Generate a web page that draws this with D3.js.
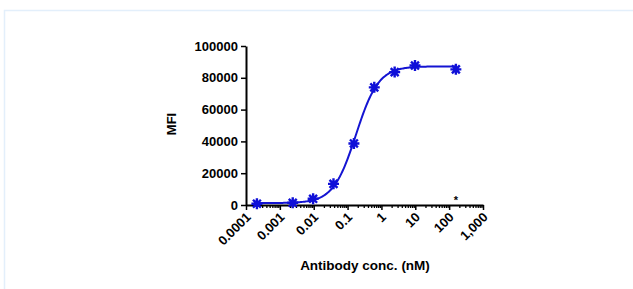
<!DOCTYPE html>
<html>
<head>
<meta charset="utf-8">
<script src="https://cdn.jsdelivr.net/npm/d3@7"></script>
<style>
  body { margin: 0; background: #fff; }
  text { font-family: "Liberation Sans", Arial, sans-serif; font-weight: bold; }
</style>
</head>
<body>
<div id="chart"></div>
<script>
// Data
var concentrations = [0.00021, 0.0024, 0.0096, 0.0384, 0.154, 0.615, 2.46, 9.8, 158];
var mfiValues = [800, 1400, 3900, 13300, 38700, 74000, 83600, 87700, 85300];
// 4PL fit: bottom, top, EC50, hill
var fitParams = [1200, 87200, 0.177, 1.3];
var yTicks = [0, 20000, 40000, 60000, 80000, 100000];
var xTicks = [0.0001, 0.001, 0.01, 0.1, 1, 10, 100, 1000];
var xTickLabels = ["0.0001", "0.001", "0.01", "0.1", "1", "10", "100", "1,000"];

var svgWidth = 633;
var svgHeight = 289;

var margin = { top: 46, left: 246, right: 150, bottom: 84 };
var width = 483 - margin.left;
var height = 205 - margin.top;

var svg = d3.select("#chart")
  .append("svg")
  .attr("width", svgWidth)
  .attr("height", svgHeight);

// light panel frame
svg.append("path")
  .attr("d", "M4.5,289 L4.5,10.5 L633,10.5")
  .attr("fill", "none")
  .attr("stroke", "#e3effb")
  .attr("stroke-width", 1.5);

var chartGroup = svg.append("g")
  .attr("transform", `translate(${margin.left}, ${margin.top})`);

var xScale = d3.scaleLog().domain([0.0001, 1000]).range([0, width]);
var yScale = d3.scaleLinear().domain([0, 100000]).range([height, 0]);

// minor ticks for log axis
var minorTicks = [];
xTicks.slice(0, -1).forEach(function(t) {
  for (var k = 2; k <= 9; k++) minorTicks.push(t * k);
});

var minorAxis = chartGroup.append("g")
  .attr("transform", `translate(0, ${height})`)
  .call(d3.axisBottom(xScale).tickValues(minorTicks).tickSize(3).tickFormat(""));
minorAxis.select(".domain").remove();
minorAxis.selectAll("line").attr("stroke-width", 1.3);

var xAxis = chartGroup.append("g")
  .attr("transform", `translate(0, ${height})`)
  .call(d3.axisBottom(xScale).tickValues(xTicks).tickSize(5).tickSizeOuter(0)
    .tickFormat(function(d, i) { return xTickLabels[i]; }));
xAxis.select(".domain").attr("stroke-width", 2);
xAxis.selectAll(".tick line").attr("stroke-width", 1.5);
xAxis.selectAll("text")
  .attr("font-size", 13)
  .attr("font-family", "Liberation Sans, Arial, sans-serif")
  .attr("fill", "#000")
  .style("text-anchor", "end")
  .attr("dx", null).attr("dy", null)
  .attr("y", 0)
  .attr("transform", "translate(5, 13) rotate(-45)");

var yAxis = chartGroup.append("g")
  .call(d3.axisLeft(yScale).tickValues(yTicks).tickSize(5).tickSizeOuter(0)
    .tickFormat(d3.format("d")));
yAxis.select(".domain").attr("stroke-width", 2);
yAxis.selectAll(".tick line").attr("stroke-width", 1.5);
yAxis.selectAll("text")
  .attr("font-size", 13)
  .attr("font-family", "Liberation Sans, Arial, sans-serif")
  .attr("fill", "#000")
  .attr("x", -8);

// fitted 4PL curve
function fourPL(x) {
  return fitParams[0] + (fitParams[1] - fitParams[0]) / (1 + Math.pow(fitParams[2] / x, fitParams[3]));
}
var logMin = Math.log10(d3.min(concentrations));
var logMax = Math.log10(d3.max(concentrations));
var curveData = d3.range(0, 201).map(function(i) {
  var x = Math.pow(10, logMin + (logMax - logMin) * i / 200);
  return [x, fourPL(x)];
});
chartGroup.append("path")
  .datum(curveData)
  .attr("fill", "none")
  .attr("stroke", "#1414d2")
  .attr("stroke-width", 2)
  .attr("d", d3.line().x(d => xScale(d[0])).y(d => yScale(d[1])));

// asterisk markers
var r = 5.5;
var starPath = `M${-r},0L${r},0M0,${-r}L0,${r}M${-r*0.72},${-r*0.72}L${r*0.72},${r*0.72}M${-r*0.72},${r*0.72}L${r*0.72},${-r*0.72}`;
chartGroup.selectAll(".pt")
  .data(concentrations)
  .enter()
  .append("path")
  .attr("class", "pt")
  .attr("d", starPath)
  .attr("transform", (d, i) => `translate(${xScale(d)}, ${yScale(mfiValues[i])})`)
  .attr("stroke", "#1010d8")
  .attr("stroke-width", 2.4)
  .attr("fill", "none");

// small black significance mark
chartGroup.append("text")
  .attr("x", xScale(concentrations[8]))
  .attr("y", height - 1)
  .attr("text-anchor", "middle")
  .attr("font-size", 11)
  .attr("fill", "#000")
  .text("*");

// axis titles
chartGroup.append("text")
  .attr("transform", "rotate(-90)")
  .attr("x", -(124 - margin.top))
  .attr("y", 176 - margin.left)
  .attr("text-anchor", "middle")
  .attr("font-size", 13)
  .text("MFI");

chartGroup.append("text")
  .attr("x", 365 - margin.left)
  .attr("y", 270 - margin.top)
  .attr("text-anchor", "middle")
  .attr("font-size", 13.5)
  .text("Antibody conc. (nM)");
</script>
</body>
</html>
